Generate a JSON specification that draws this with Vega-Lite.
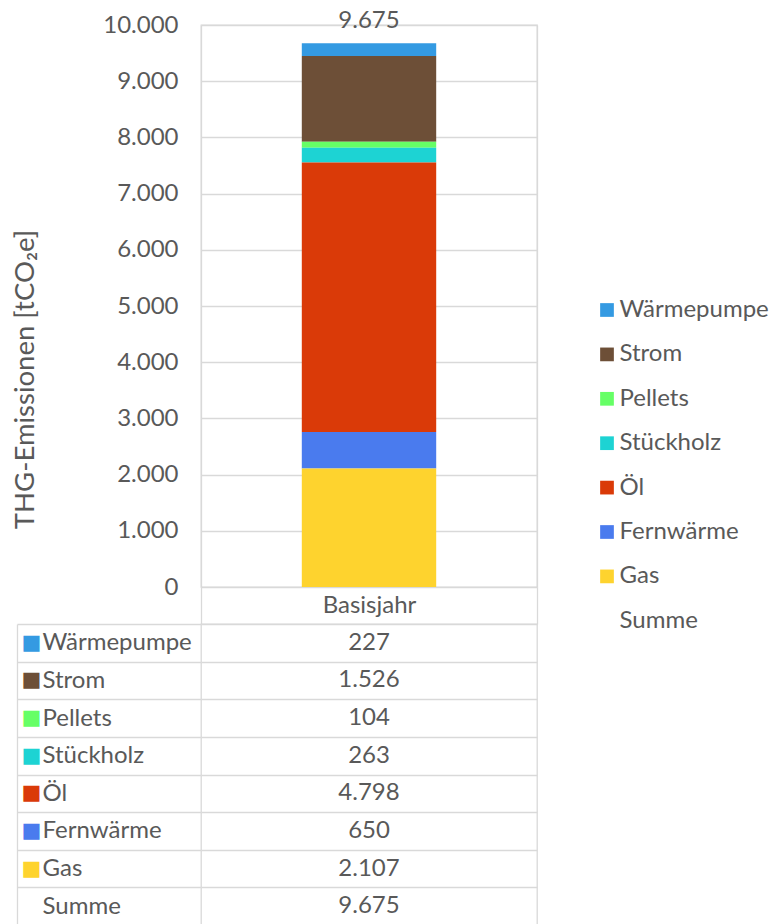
{
  "$schema": "https://vega.github.io/schema/vega-lite/v6.json",
  "background": "white",
  "padding": {"left": 11, "top": 8, "right": 2, "bottom": 0},
  "config": {
    "font": "Lato",
    "locale": {"number": {"decimal": ",", "thousands": ".", "grouping": [3], "currency": ["", " €"]}},
    "view": {"stroke": "#d9d9d9", "strokeWidth": 1.3},
    "axis": {
      "labelFont": "Lato", "labelFontSize": 24, "labelColor": "#595959",
      "titleFont": "Lato", "titleColor": "#595959", "titleFontWeight": "normal",
      "gridColor": "#d9d9d9", "gridWidth": 1.3,
      "domainColor": "#d9d9d9", "domainWidth": 1.3,
      "tickColor": "#d9d9d9", "tickWidth": 1.3
    }
  },
  "datasets": {
    "werte": [
      {"Jahr": "Basisjahr", "Energietraeger": "Wärmepumpe", "THG": 227, "Rang": 1},
      {"Jahr": "Basisjahr", "Energietraeger": "Strom", "THG": 1526, "Rang": 2},
      {"Jahr": "Basisjahr", "Energietraeger": "Pellets", "THG": 104, "Rang": 3},
      {"Jahr": "Basisjahr", "Energietraeger": "Stückholz", "THG": 263, "Rang": 4},
      {"Jahr": "Basisjahr", "Energietraeger": "Öl", "THG": 4798, "Rang": 5},
      {"Jahr": "Basisjahr", "Energietraeger": "Fernwärme", "THG": 650, "Rang": 6},
      {"Jahr": "Basisjahr", "Energietraeger": "Gas", "THG": 2107, "Rang": 7},
      {"Jahr": "Basisjahr", "Energietraeger": "Summe", "THG": 9675, "Rang": 8}
    ]
  },
  "spacing": 37,
  "bounds": "flush",
  "vconcat": [
    {
      "width": 336,
      "height": 562,
      "data": {"name": "werte"},
      "layer": [
        {
          "transform": [{"filter": "datum.Energietraeger != 'Summe'"}],
          "mark": {"type": "bar", "width": {"band": 0.4}},
          "encoding": {
            "x": {
              "field": "Jahr", "type": "nominal",
              "scale": {"paddingInner": 0, "paddingOuter": 0},
              "axis": {
                "title": null, "domain": false, "ticks": true, "tickBand": "extent",
                "tickSize": 37, "grid": true, "labelAngle": 0,
                "labelPadding": -18.5, "labelBaseline": "middle"
              }
            },
            "y": {
              "field": "THG", "type": "quantitative", "stack": "zero",
              "scale": {"domain": [0, 10000], "nice": false},
              "axis": {
                "title": "THG-Emissionen [tCO₂e]", "titleFontSize": 27.5,
                "values": [0, 1000, 2000, 3000, 4000, 5000, 6000, 7000, 8000, 9000, 10000],
                "format": ",.0f", "domain": false, "ticks": false, "tickSize": 0,
                "labelPadding": 23, "titlePadding": 63, "titleY": 354, "grid": true
              }
            },
            "color": {
              "field": "Energietraeger", "type": "nominal",
              "scale": {
                "domain": ["Wärmepumpe", "Strom", "Pellets", "Stückholz", "Öl", "Fernwärme", "Gas", "Summe"],
                "range": ["#349ae2", "#6d4f37", "#66ff66", "#1dd3d3", "#da3a08", "#4a7bee", "#fed32e", "transparent"]
              },
              "legend": {
                "orient": "none", "legendX": 394, "legendY": 273, "title": null,
                "symbolType": "square", "symbolSize": 188, "symbolStrokeWidth": 0,
                "labelFont": "Lato", "labelFontSize": 24, "labelColor": "#595959",
                "rowPadding": 20.4, "labelOffset": 0.5
              }
            },
            "order": {"field": "Rang", "sort": "descending"}
          }
        },
        {
          "transform": [{"filter": "datum.Energietraeger == 'Summe'"}],
          "mark": {"type": "text", "baseline": "alphabetic", "dy": -15, "fontSize": 24, "color": "#595959"},
          "encoding": {
            "x": {"field": "Jahr", "type": "nominal"},
            "y": {"field": "THG", "type": "quantitative"},
            "text": {"field": "THG", "type": "quantitative", "format": ",.0f"}
          }
        }
      ]
    },
    {
      "width": 336,
      "height": 301,
      "data": {"name": "werte"},
      "layer": [
        {
          "mark": {"type": "text", "fontSize": 24, "color": "#595959"},
          "encoding": {
            "x": {"field": "Jahr", "type": "nominal", "scale": {"paddingInner": 0, "paddingOuter": 0}, "axis": null},
            "y": {
              "field": "Energietraeger", "type": "nominal",
              "scale": {
                "domain": ["Wärmepumpe", "Strom", "Pellets", "Stückholz", "Öl", "Fernwärme", "Gas", "Summe"],
                "paddingInner": 0, "paddingOuter": 0
              },
              "axis": {
                "title": null, "orient": "left", "domain": false, "ticks": true,
                "tickBand": "extent", "tickSize": 184, "grid": true,
                "labelAlign": "left", "labelBaseline": "middle", "labelPadding": -25
              }
            },
            "text": {"field": "THG", "type": "quantitative", "format": ",.0f"}
          }
        },
        {
          "mark": {"type": "text", "text": ""},
          "encoding": {
            "y": {
              "field": "Energietraeger", "type": "nominal",
              "axis": {
                "title": null, "orient": "left", "offset": 184, "domain": true,
                "ticks": false, "grid": false, "labelExpr": "'■'",
                "labelFont": "DejaVu Sans", "labelFontSize": 21,
                "labelAlign": "left", "labelBaseline": "middle", "labelPadding": -4,
                "labelColor": {"expr": "datum.value == 'Wärmepumpe' ? '#349ae2' : datum.value == 'Strom' ? '#6d4f37' : datum.value == 'Pellets' ? '#66ff66' : datum.value == 'Stückholz' ? '#1dd3d3' : datum.value == 'Öl' ? '#da3a08' : datum.value == 'Fernwärme' ? '#4a7bee' : datum.value == 'Gas' ? '#fed32e' : 'transparent'"}
              }
            }
          }
        }
      ],
      "resolve": {"axis": {"y": "independent"}}
    }
  ]
}
